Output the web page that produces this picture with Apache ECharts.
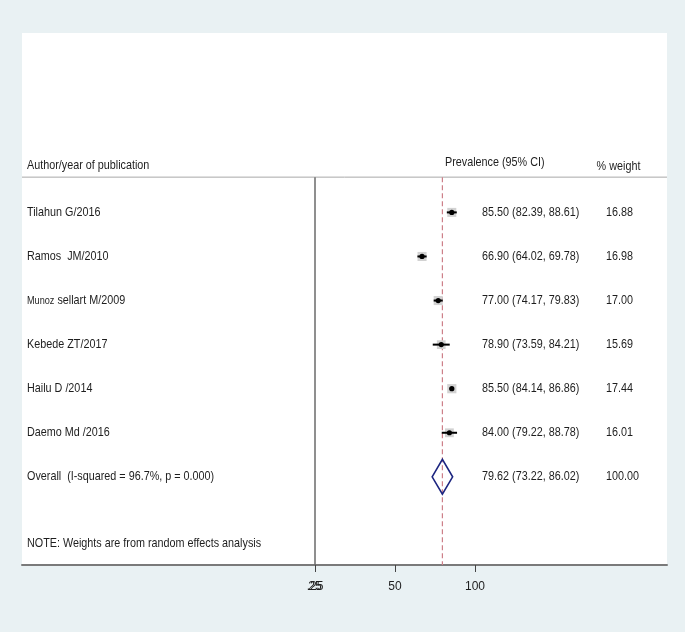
<!DOCTYPE html>
<html><head><meta charset="utf-8">
<script src="https://cdn.jsdelivr.net/npm/echarts@6/dist/echarts.min.js"></script>
<style>html,body{margin:0;padding:0;background:#e9f1f3}#c{width:685px;height:632px}</style>
</head><body><div id="c"></div>
<script>
// ---- data ----
const studies = ['Tilahun G/2016', 'Ramos  JM/2010', 'Munoz sellart M/2009', 'Kebede ZT/2017', 'Hailu D /2014', 'Daemo Md /2016'];
const estimates = [85.50, 66.90, 77.00, 78.90, 85.50, 84.00];
const lowerCI = [82.39, 64.02, 74.17, 73.59, 84.14, 79.22];
const upperCI = [88.61, 69.78, 79.83, 84.21, 86.86, 88.78];
const weights = [16.88, 16.98, 17.00, 15.69, 17.44, 16.01];
const overallLabel = 'Overall  (I-squared = 96.7%, p = 0.000)';
const overallEst = 79.62;
const overallLower = 73.22;
const overallUpper = 86.02;
const overallWeight = 100.00;
const tickValues = [0, 50, 100];
const tickLabels = ['.25', '50', '100'];
const overlayTickValues = [0];
const overlayTickLabels = ['25'];
const headerLabel = 'Author/year of publication';
const headerEst = 'Prevalence (95% CI)';
const headerWeight = '% weight';
const noteText = 'NOTE: Weights are from random effects analysis';

// ---- layout ----
const FONT = '"Liberation Sans", Arial, sans-serif';
const FS = 13;
const SX = 0.83;
const TXT = '#1e1e1e';
const X_MIN = -183.125, X_MAX = 220;
const Y_MIN = -4.07, Y_MAX = 8.0;
const COL_LABEL = -180.0, COL_EST = 104.4, COL_W = 181.9;
const HEADER_Y = -1.063, HEADER_LINE_Y = -0.80, NOTE_Y = 7.5;

function f2(v) { return v.toFixed(2); }
function txt(pt, s, extra) {
  return {
    type: 'text', x: pt[0], y: pt[1], scaleX: SX, scaleY: 1,
    style: Object.assign({ text: s, fontFamily: FONT, fontSize: FS, fill: TXT, verticalAlign: 'middle', align: 'left' }, extra || {})
  };
}

const studyData = studies.map((s, i) => [i, estimates[i], lowerCI[i], upperCI[i], weights[i]]);

const chart = echarts.init(document.getElementById('c'));
chart.setOption({
  backgroundColor: '#e9f1f3',
  animation: false,
  grid: { left: 22, right: 18, top: 33, bottom: 67, show: true, backgroundColor: '#ffffff', borderWidth: 0 },
  xAxis: [{
    type: 'value', min: X_MIN, max: X_MAX, position: 'bottom',
    axisLine: { show: true, onZero: false, lineStyle: { color: '#7a7a7a', width: 2 } },
    axisTick: { show: true, customValues: tickValues, length: 7, lineStyle: { color: '#444', width: 1 } },
    axisLabel: {
      customValues: tickValues, margin: 16, fontFamily: FONT, fontSize: 12, color: TXT,
      formatter: v => tickLabels[tickValues.indexOf(v)]
    },
    splitLine: { show: false }
  }, {
    type: 'value', min: X_MIN, max: X_MAX, position: 'bottom', offset: 0,
    axisLine: { show: false }, axisTick: { show: false }, splitLine: { show: false },
    axisLabel: {
      customValues: overlayTickValues, margin: 16, fontFamily: FONT, fontSize: 12, color: TXT,
      formatter: v => overlayTickLabels[overlayTickValues.indexOf(v)]
    }
  }],
  yAxis: { type: 'value', min: Y_MIN, max: Y_MAX, inverse: true, show: false },
  series: [{
    // frame lines and header / note text
    type: 'custom', xAxisIndex: 0, yAxisIndex: 0, data: [[0]], silent: true,
    renderItem: function (params, api) {
      const hl = api.coord([X_MIN, HEADER_LINE_Y]), hr = api.coord([X_MAX, HEADER_LINE_Y]);
      const v0t = api.coord([0, HEADER_LINE_Y]), v0b = api.coord([0, Y_MAX]);
      const dt = api.coord([overallEst, HEADER_LINE_Y]), db = api.coord([overallEst, Y_MAX]);
      return {
        type: 'group', children: [
          { type: 'line', shape: { x1: hl[0], y1: hl[1], x2: hr[0], y2: hr[1] }, style: { stroke: '#a8a8a8', lineWidth: 1 } },
          { type: 'line', shape: { x1: v0t[0], y1: v0t[1], x2: v0b[0], y2: v0b[1] }, style: { stroke: '#6a6a6a', lineWidth: 1.5 } },
          { type: 'line', shape: { x1: dt[0], y1: dt[1], x2: db[0], y2: db[1] }, style: { stroke: '#cd7f89', lineWidth: 1.2, lineDash: [5, 3] } },
          txt(api.coord([COL_LABEL, HEADER_Y]), headerLabel),
          txt(api.coord([81.25, HEADER_Y - 0.064]), headerEst),
          txt(api.coord([176.0, HEADER_Y + 0.011]), headerWeight),
          txt(api.coord([COL_LABEL, NOTE_Y]), noteText)
        ]
      };
    }
  }, {
    // studies
    type: 'custom', xAxisIndex: 0, yAxisIndex: 0, data: studyData, silent: true,
    renderItem: function (params, api) {
      const i = api.value(0), est = api.value(1), lo = api.value(2), hi = api.value(3), w = api.value(4);
      const c = api.coord([est, i]), l = api.coord([lo, i]), h = api.coord([hi, i]);
      const box = Math.sqrt(w) * 2.2;
      const name = studies[i];
      const labelStyle = name.indexOf('Munoz') === 0
        ? { text: '{s|Munoz} sellart M/2009', rich: { s: { fontSize: 11, fontFamily: FONT, fill: TXT } } }
        : {};
      const lab = txt(api.coord([COL_LABEL, i]), name, labelStyle);
      return {
        type: 'group', children: [
          { type: 'rect', shape: { x: c[0] - box / 2, y: c[1] - box / 2, width: box, height: box }, style: { fill: '#d2d2d2' } },
          { type: 'line', shape: { x1: l[0], y1: l[1], x2: h[0], y2: h[1] }, style: { stroke: '#000', lineWidth: 2 } },
          { type: 'circle', shape: { cx: c[0], cy: c[1], r: 2.6 }, style: { fill: '#000' } },
          lab,
          txt(api.coord([COL_EST, i]), f2(est) + ' (' + f2(lo) + ', ' + f2(hi) + ')'),
          txt(api.coord([COL_W, i]), f2(w))
        ]
      };
    }
  }, {
    // overall diamond
    type: 'custom', xAxisIndex: 0, yAxisIndex: 0, silent: true,
    data: [[studies.length, overallEst, overallLower, overallUpper, overallWeight]],
    renderItem: function (params, api) {
      const i = api.value(0), est = api.value(1), lo = api.value(2), hi = api.value(3), w = api.value(4);
      const half = 0.395;
      const pts = [api.coord([lo, i]), api.coord([est, i - half]), api.coord([hi, i]), api.coord([est, i + half])];
      return {
        type: 'group', children: [
          { type: 'polygon', shape: { points: pts }, style: { fill: 'none', stroke: '#1c2580', lineWidth: 1.6 } },
          txt(api.coord([COL_LABEL, i]), overallLabel),
          txt(api.coord([COL_EST, i]), f2(est) + ' (' + f2(lo) + ', ' + f2(hi) + ')'),
          txt(api.coord([COL_W, i]), f2(w))
        ]
      };
    }
  }]
});
</script></body></html>
